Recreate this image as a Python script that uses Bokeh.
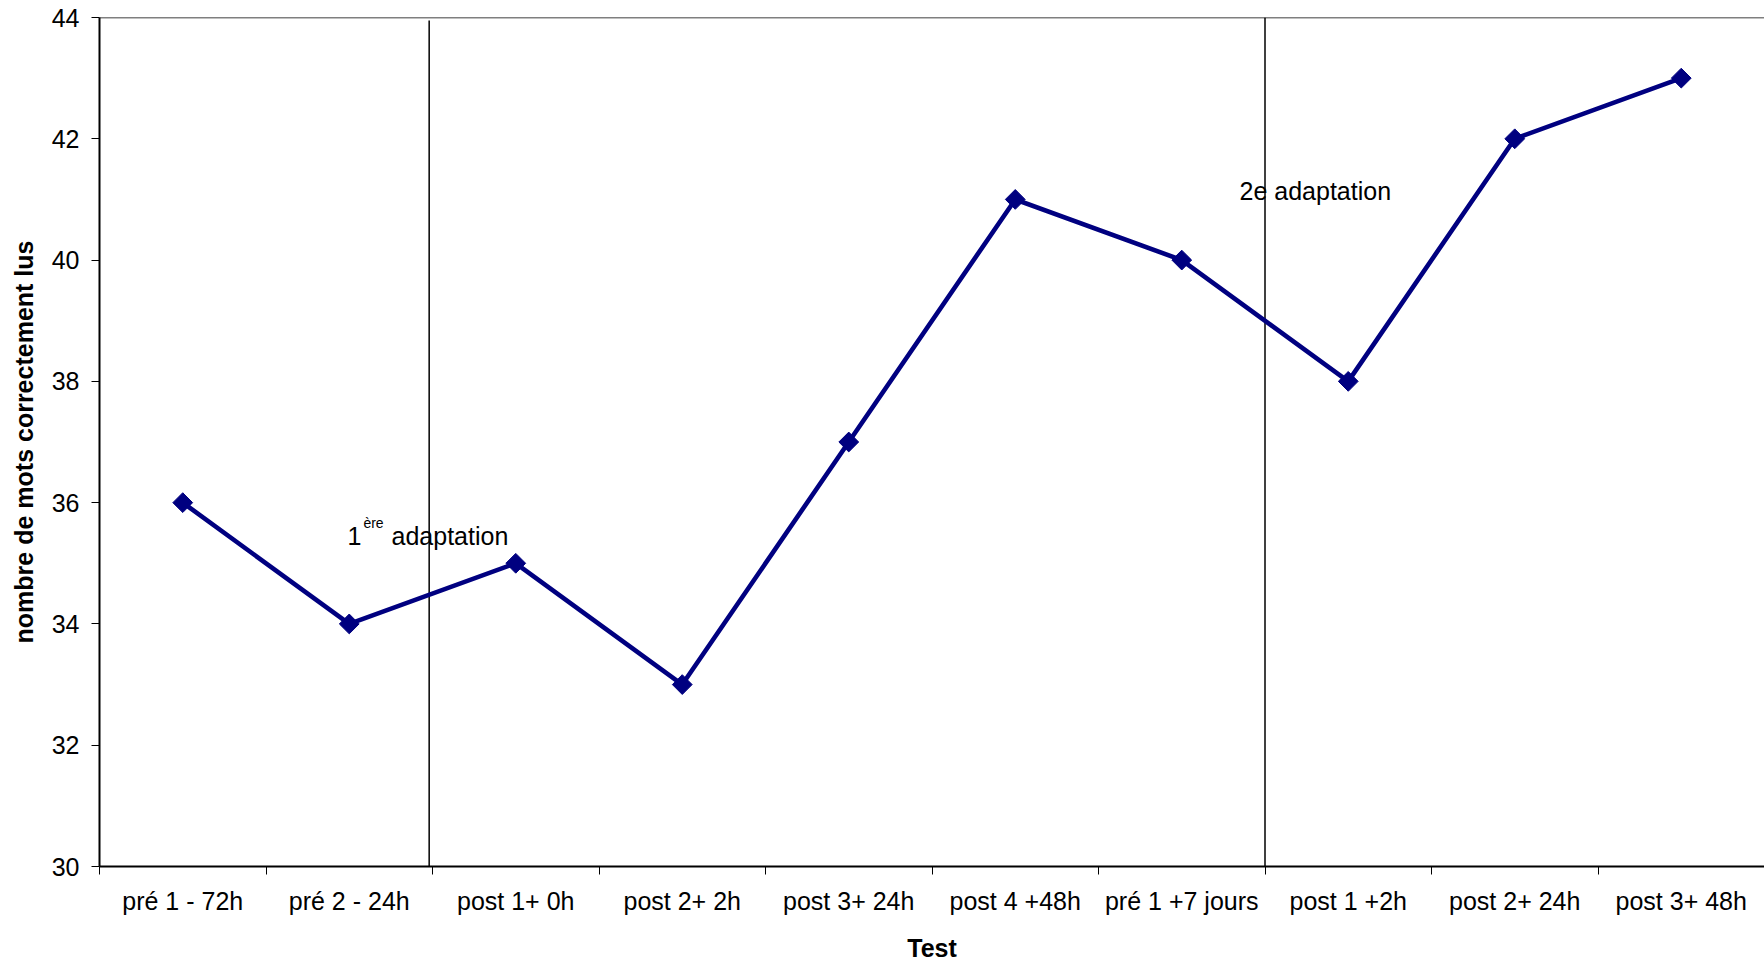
import math
from bokeh.plotting import figure
from bokeh.models import Range1d, FixedTicker, Span
from bokeh.core.properties import value
from bokeh.embed import file_html
from bokeh.resources import INLINE

# ---- data ----
tests = ["pré 1 - 72h", "pré 2 - 24h", "post 1+ 0h", "post 2+ 2h", "post 3+ 24h",
         "post 4 +48h", "pré 1 +7 jours", "post 1 +2h", "post 2+ 24h", "post 3+ 48h"]
mots = [36, 34, 35, 33, 37, 41, 40, 38, 42, 43]
y_ticks = [30, 32, 34, 36, 38, 40, 42, 44]

# adaptation dividers (in category-slot units) and their labels
divider_x = [1.98, 7.0]
divider_top = [43.95, 44.0]
ann1_parts = ["1", "ère", "adaptation"]
ann2_text = "2e adaptation"

FONT = "Liberation Sans"
FS = "25px"
NAVY = "#000080"

xs = [i + 0.5 for i in range(len(tests))]

p = figure(width=1764, height=964, output_backend="svg", toolbar_location=None,
           x_range=Range1d(0, len(tests)), y_range=Range1d(30, 44),
           min_border_left=99, min_border_right=0, min_border_top=17, min_border_bottom=97)
p.background_fill_color = "white"
p.border_fill_color = "white"
p.outline_line_color = None
p.xgrid.visible = False
p.ygrid.visible = False

# x axis: labels at slot centres, ticks at slot boundaries
xa = p.xaxis[0]
xa.ticker = FixedTicker(ticks=xs, minor_ticks=list(range(len(tests) + 1)))
xa.major_label_overrides = {x: t for x, t in zip(xs, tests)}
xa.major_tick_out = 0
xa.major_tick_in = 0
xa.minor_tick_out = 8
xa.minor_tick_in = 0
xa.minor_tick_line_color = "black"
xa.minor_tick_line_width = 1
xa.axis_line_color = "black"
xa.axis_line_width = 2
xa.major_label_text_font = FONT
xa.major_label_text_font_size = FS
xa.major_label_text_color = "black"
xa.major_label_standoff = 12
xa.axis_label = "Test"
xa.axis_label_text_font = FONT
xa.axis_label_text_font_size = FS
xa.axis_label_text_font_style = "bold"
xa.axis_label_text_color = "black"
xa.axis_label_standoff = 16

ya = p.yaxis[0]
ya.ticker = FixedTicker(ticks=y_ticks)
ya.major_tick_out = 8
ya.major_tick_in = 0
ya.minor_tick_out = 0
ya.minor_tick_in = 0
ya.major_tick_line_color = "black"
ya.axis_line_color = "black"
ya.axis_line_width = 2
ya.major_label_text_font = FONT
ya.major_label_text_font_size = FS
ya.major_label_text_color = "black"
ya.major_label_standoff = 12
ya.axis_label = "nombre de mots correctement lus"
ya.axis_label_text_font = FONT
ya.axis_label_text_font_size = FS
ya.axis_label_text_font_style = "bold"
ya.axis_label_text_color = "black"
ya.axis_label_standoff = 11

# top border
p.add_layout(Span(location=44, dimension="width", line_color="black", line_width=1.5))

# dividers
p.segment(x0=divider_x, y0=[30, 30], x1=divider_x, y1=divider_top,
          line_color="black", line_width=1.5)

# series
p.line(xs, mots, line_color=NAVY, line_width=4.6)
p.scatter(xs, mots, marker="square", size=14, angle=math.pi / 4,
          fill_color=NAVY, line_color=NAVY)

# annotations
p.text(x=[1.49], y=[35.45], text=[ann1_parts[0]], text_font=value(FONT),
       text_font_size=FS, text_color="black", text_baseline="alphabetic")
p.text(x=[1.585], y=[35.66], text=[ann1_parts[1]], text_font=value(FONT),
       text_font_size="14px", text_color="black", text_baseline="alphabetic")
p.text(x=[1.754], y=[35.45], text=[ann1_parts[2]], text_font=value(FONT),
       text_font_size=FS, text_color="black", text_baseline="alphabetic")
p.text(x=[6.847], y=[41.14], text=[ann2_text], text_font=value(FONT),
       text_font_size=FS, text_color="black", text_baseline="alphabetic")

open("out.html", "w").write(file_html(p, INLINE))
